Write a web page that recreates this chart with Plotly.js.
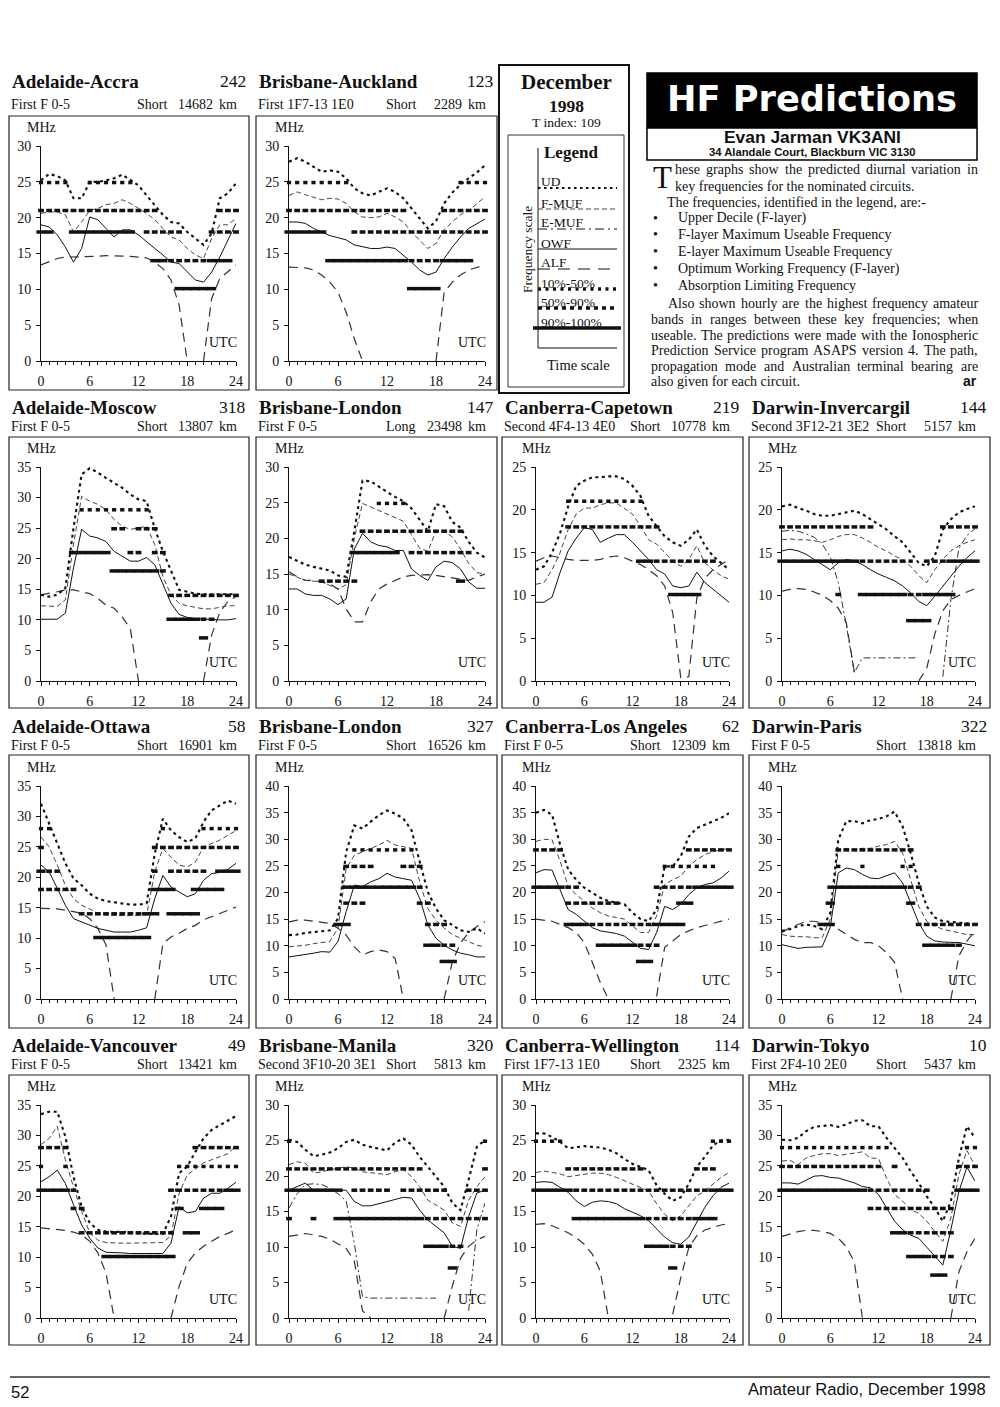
<!DOCTYPE html>
<html>
<head>
<meta charset="utf-8">
<script src="https://cdn.plot.ly/plotly-3.0.1.min.js"></script>
<style>
html,body{margin:0;padding:0;background:#fff;}
#page{width:1000px;height:1407px;}
</style>
</head>
<body>
<div id="page"></div>
<script>
// ================= DATA =================
const hours = [0,1,2,3,4,5,6,7,8,9,10,11,12,13,14,15,16,17,18,19,20,21,22,23,24];
// amateur bands drawn as hourly bars (rows of the band strings below, top to bottom)
const bandFreqs = [28, 24.9, 21, 18, 14, 10.1, 7.05];
// band string digit per hour: 0 none, 1 = 10%-50%, 2 = 50%-90%, 3 = 90%-100%

const chartTitles = ["Adelaide-Accra","Brisbane-Auckland","Adelaide-Moscow","Brisbane-London","Canberra-Capetown","Darwin-Invercargil","Adelaide-Ottawa","Brisbane-London","Canberra-Los Angeles","Darwin-Paris","Adelaide-Vancouver","Brisbane-Manila","Canberra-Wellington","Darwin-Tokyo"];
const chartBearings = ["242","123","318","147","219","144","58","327","62","322","49","320","114","10"];
const chartModes = ["First F 0-5","First 1F7-13 1E0","First F 0-5","First F 0-5","Second 4F4-13 4E0","Second 3F12-21 3E2","First F 0-5","First F 0-5","First F 0-5","First F 0-5","First F 0-5","Second 3F10-20 3E1","First 1F7-13 1E0","First 2F4-10 2E0"];
const chartPaths = ["Short","Short","Short","Long","Short","Short","Short","Short","Short","Short","Short","Short","Short","Short"];
const chartDistances = ["14682","2289","13807","23498","10778","5157","16901","16526","12309","13818","13421","5813","2325","5437"];
const chartYMax = [30,30,35,30,25,25,35,40,40,40,35,30,30,35];

// ---- Adelaide-Accra ----
const accraUD   = [25.2,26.1,25.8,25.2,22.7,22.7,25.0,25.0,25.2,25.5,26.0,25.3,24.5,23.1,21.7,20.4,19.4,19.2,18.0,17.1,16.2,17.8,22.7,23.4,24.8];
const accraFMUF = [20.6,20.8,20.8,20.4,18.0,19.4,21.0,21.3,21.8,22.0,22.5,22.0,21.3,20.6,19.7,18.5,17.3,16.9,15.7,14.8,14.3,17.1,19.0,19.0,19.9];
const accraOWF  = [19.0,18.7,17.6,15.9,13.8,15.7,20.1,19.7,18.5,17.3,18.3,18.3,17.6,16.6,15.7,14.8,13.8,13.6,12.4,11.3,11.0,12.4,14.5,16.9,19.2];
const accraALF  = [13.4,13.8,14.3,14.5,14.5,14.5,14.6,14.6,14.7,14.7,14.7,14.6,14.5,14.4,13.8,12.9,11.3,7.8,0,null,0,8.7,11.5,12.4,13.4];
const accraBands = ["0000000000000000000000000","1111001111110000000000000","2222222222222220000000222","3300333333330222220002222","0000000000000033222223330","0000000000000000033333000","0000000000000000000000000"];

// ---- Brisbane-Auckland ----
const aucklandUD   = [27.8,28.3,27.8,27.1,26.4,26.6,26.4,25.5,24.1,23.4,23.1,23.6,24.1,23.6,22.7,21.3,19.9,18.5,19.5,22.0,23.5,24.6,25.5,26.3,27.3];
const aucklandFMUF = [23.1,23.6,23.2,22.9,22.5,22.7,22.6,22.0,20.8,20.1,20.0,20.1,20.6,20.1,19.4,18.0,16.9,15.7,16.4,18.3,19.4,20.4,21.0,22.0,22.9];
const aucklandOWF  = [19.4,19.4,19.2,18.5,18.0,17.5,17.2,16.9,16.2,15.9,15.7,15.7,15.9,15.7,14.8,13.8,12.7,12.0,12.4,14.3,15.9,17.3,18.5,19.2,19.8];
const aucklandALF  = [13.1,13.1,13.0,12.7,12.0,11.0,9.6,6.8,3.1,0,null,null,null,null,null,null,null,null,0,9.6,11.0,12.0,12.7,13.1,13.4];
const aucklandBands = ["0000000000000000000000000","1111111100000000000001111","2222222222222220000222222","3333300022222222222222222","0000033333333332222333300","0000000000000003333000000","0000000000000000000000000"];

// ---- Adelaide-Moscow ----
const moscowUD   = [14.1,13.8,14.1,15.2,25.0,33.8,34.8,34.1,33.2,32.4,31.6,30.5,29.7,29.4,25.0,21.2,17.9,14.9,14.6,14.3,14.2,14.2,14.2,14.2,14.2];
const moscowFMUF = [12.3,12.3,12.2,13.3,22.3,30.2,29.4,28.9,28.0,26.4,25.3,24.8,25.0,25.3,22.3,17.1,14.1,12.7,12.3,12.0,11.8,11.8,12.0,12.3,12.3];
const moscowOWF  = [10.1,10.1,10.1,11.1,18.5,24.8,23.7,23.4,22.8,21.2,20.4,19.6,19.6,20.2,19.0,15.7,12.7,10.9,10.4,10.2,10.1,10.0,10.0,10.0,10.2];
const moscowALF  = [14.1,14.3,14.6,14.9,14.9,14.6,14.3,13.5,12.4,11.9,10.5,8.5,0,null,null,null,null,null,null,null,0,7.5,11.2,13.0,13.8];
const moscowBands = ["0000011111111100000000000","0000000002202220000000000","0000333330022022000000000","0000000003333332000000000","0000000000000000222222222","0000000000000000333322000","0000000000000000000030000"];

// ---- Brisbane-London (long path) ----
const londonLongUD   = [17.4,16.9,16.3,16.0,15.7,15.5,14.8,14.6,21.0,28.1,28.0,27.2,26.5,25.8,25.2,24.2,22.6,21.0,24.8,24.5,22.3,21.5,19.5,18.0,17.3];
const londonLongFMUF = [15.0,14.6,14.1,14.0,13.9,13.4,12.9,13.5,20.0,24.9,24.4,23.9,23.5,23.0,22.4,20.5,18.6,18.2,21.0,21.0,20.2,18.5,16.5,15.2,15.0];
const londonLongOWF  = [12.9,12.9,12.2,12.0,12.0,11.5,10.7,11.5,18.5,20.7,19.5,19.0,18.8,18.3,18.3,15.7,14.8,14.1,16.0,16.8,16.6,15.7,13.9,13.0,13.0];
const londonLongALF  = [15.3,14.6,14.1,14.1,13.9,13.6,12.9,10.1,8.3,8.3,11.1,12.9,13.6,14.1,14.6,14.8,14.9,14.9,14.8,14.6,14.4,14.3,14.1,14.6,15.0];
const londonLongBands = ["0000000000000000000000000","0000000000011110000000000","0000000002222222222222000","0000000033333302222222200","0000222220000000000003000","0000000000000000000000000","0000000000000000000000000"];

// ---- Canberra-Capetown ----
const capetownUD   = [13.0,13.4,15.0,17.3,20.4,22.8,23.4,23.8,23.8,23.9,23.9,23.6,22.8,21.6,19.3,18.1,16.9,16.2,15.8,16.5,17.7,15.8,14.6,13.8,13.0];
const capetownFMUF = [11.3,11.5,13.0,15.0,17.7,19.5,20.2,20.2,20.6,20.8,20.8,20.2,19.5,18.1,16.5,16.0,15.0,14.0,13.4,14.2,15.8,13.8,13.0,12.3,11.9];
const capetownOWF  = [9.2,9.2,9.8,12.7,15.2,16.7,17.9,17.7,16.2,16.7,17.1,17.1,16.2,15.2,14.2,13.0,12.5,11.1,10.9,11.1,12.7,11.5,10.7,9.9,9.2];
const capetownALF  = [14.0,14.4,14.6,14.4,14.2,14.1,14.1,14.1,14.2,14.5,14.6,14.4,14.0,13.6,13.0,12.3,11.1,8.0,0.4,0.5,9.7,12.0,13.0,13.6,14.2];
const capetownBands = ["0000000000000000000000000","0000000000000000000000000","0000111111111100000000000","0000222222222222000000000","0000000000000332222222200","0000000000000000033330000","0000000000000000000000000"];

// ---- Darwin-Invercargil ----
const invercargilUD   = [20.4,20.6,20.2,19.9,19.5,19.3,19.3,19.5,19.7,19.9,19.5,18.9,18.3,17.7,16.9,16.2,15.0,13.8,13.4,14.6,17.7,18.9,19.7,20.1,20.4];
const invercargilFMUF = [16.5,16.6,16.5,16.5,16.4,16.2,16.5,16.9,17.1,17.1,16.7,16.2,15.6,15.2,14.6,14.2,13.4,12.3,11.5,13.0,14.2,15.2,15.8,16.2,16.5];
const invercargilEMUF = [17.5,17.6,17.5,17.2,16.8,16.0,14.5,11.5,6.5,1.0,2.7,2.7,2.7,2.7,2.7,2.7,2.7,2.7,null,null,0.5,9.5,15.5,17.0,17.8];
const invercargilOWF  = [15.2,15.4,15.2,14.8,14.2,13.6,13.0,13.8,14.2,14.0,13.6,13.0,12.5,12.1,11.7,11.1,10.3,9.3,8.8,9.9,11.1,12.3,13.4,14.4,15.2];
const invercargilALF  = [10.5,10.7,10.8,10.7,10.4,10.0,9.4,8.5,6.8,1.0,null,null,null,null,null,null,null,0,1.5,5.5,8.2,9.5,10.0,10.4,10.8];
const invercargilBands = ["0000000000000000000000000","0000000000000000000000000","0000000000000000000000000","2222222222220000000022222","3333333333222222102223333","0000000200333333223333000","0000000000000000333000000"];

// ---- Adelaide-Ottawa ----
const ottawaUD   = [32.1,28.8,25.5,22.3,19.8,18.7,17.3,16.5,16.1,15.9,15.7,15.5,15.5,15.7,23.9,29.6,27.7,26.6,25.8,26.4,29.1,31.0,31.8,32.6,32.1];
const ottawaFMUF = [26.6,25.0,22.0,18.7,16.5,15.4,14.8,14.1,13.8,13.7,13.7,13.7,13.7,13.8,20.9,24.7,23.3,22.0,21.7,22.5,25.0,25.5,26.1,26.9,27.7];
const ottawaOWF  = [22.0,20.9,18.2,15.4,13.2,12.7,12.1,11.6,11.3,11.0,11.0,11.0,11.3,11.7,16.5,20.3,18.4,17.6,16.8,17.3,19.5,20.6,20.8,21.3,22.3];
const ottawaALF  = [14.9,14.9,14.8,14.6,14.4,14.1,13.2,11.6,8.9,0,null,null,null,null,0,9.1,10.2,10.8,11.6,12.1,13.0,13.5,14.1,14.6,15.1];
const ottawaBands = ["1100000000000001000011111","2000000000000022222222222","3220000000000020222220333","2222200000000033300333300","0000022222222330333300000","0000000333333300000000000","0000000000000000000000000"];

// ---- Brisbane-London (short path) ----
const londonShortUD   = [12.0,12.1,12.4,12.6,12.8,12.9,15.1,27.6,32.6,32.0,33.3,34.5,35.4,34.8,33.9,31.7,25.8,20.1,17.0,14.8,13.9,12.9,12.6,13.3,12.3];
const londonShortFMUF = [9.8,9.9,10.1,10.4,10.6,10.8,13.3,24.5,27.0,27.6,28.3,28.9,29.8,28.9,28.6,28.3,22.0,17.0,14.8,13.3,12.1,11.4,10.8,10.1,9.8];
const londonShortOWF  = [7.9,8.1,8.3,8.6,8.9,8.8,10.8,16.4,21.4,21.1,22.0,22.6,23.6,22.9,22.6,22.3,18.9,13.9,11.4,10.1,9.2,8.6,8.3,7.9,7.9];
const londonShortALF  = [14.5,14.8,14.8,14.6,14.5,14.2,13.3,12.0,9.8,8.3,8.9,9.2,8.9,7.6,0,null,null,null,null,0,7.0,10.5,12.5,13.6,14.5];
const londonShortBands = ["0000000011111111000000000","0000000222200022200000000","0000000333333333200000000","0000000222000000220000000","0000003300000000022200000","0000000000000000033220000","0000000000000000000330000"];

// ---- Canberra-Los Angeles ----
const losAngelesUD   = [35.0,35.5,34.6,29.0,24.3,22.4,20.9,19.9,19.0,18.4,18.1,17.8,16.2,15.0,14.6,16.8,24.9,24.9,26.8,30.5,32.1,32.7,33.3,34.0,34.9];
const losAngelesFMUF = [29.6,30.0,29.9,25.9,21.2,19.6,18.4,17.1,16.2,15.6,15.3,15.0,13.7,12.5,12.5,15.6,21.5,22.4,23.1,24.9,26.2,27.1,27.7,28.0,28.3];
const losAngelesOWF  = [23.7,24.3,24.2,20.6,16.8,15.9,14.6,13.4,12.8,12.5,12.3,11.8,10.6,9.5,9.3,12.5,17.4,16.8,17.8,19.6,20.9,21.5,21.8,22.7,24.0];
const losAngelesALF  = [15.0,14.8,14.6,14.0,13.4,12.5,10.6,6.9,3.1,0,null,null,null,null,null,0.5,9.7,10.9,12.1,12.8,13.4,13.8,14.2,14.6,15.0];
const losAngelesBands = ["2222000000000000000222222","0000000000000000111111100","3333220000000002222233333","0000222222200000003300000","0000333222222223333000000","0000000033333222000000000","0000000000000330000000000"];

// ---- Darwin-Paris ----
const parisUD   = [12.8,13.1,13.7,14.0,13.7,13.1,16.2,29.9,33.4,33.4,33.0,33.6,33.8,34.3,35.2,32.4,27.4,21.8,17.4,15.3,14.6,14.5,14.3,14.2,14.0];
const parisFMUF = [12.1,11.8,11.7,11.7,11.5,11.5,15.0,28.0,28.3,28.0,28.3,28.3,28.7,29.0,29.6,27.4,22.4,17.4,14.6,13.7,13.1,12.8,12.5,12.1,12.1];
const parisOWF  = [10.2,9.8,9.5,9.7,9.7,9.8,13.5,23.7,24.6,24.3,23.4,22.7,22.6,23.1,23.7,21.8,18.1,14.3,11.8,10.9,10.7,10.6,10.6,10.3,10.0];
const parisALF  = [12.5,13.4,14.0,14.6,14.6,14.3,14.0,13.1,12.1,11.2,10.6,10.6,10.0,8.7,6.9,0,null,null,null,null,null,0,8.1,10.9,12.8];
const parisBands = ["0000000222222222200000000","0000000100100001100000000","0000002333333333220000000","0000003000000000300000000","0000033000000000022222222","0000000000000000003333200","0000000000000000000000000"];

// ---- Adelaide-Vancouver ----
const vancouverUD   = [33.5,33.9,33.9,29.8,23.2,18.3,15.6,14.5,14.2,14.2,14.1,14.1,13.9,13.8,13.8,13.8,16.7,23.8,24.9,27.3,29.5,30.9,31.7,32.5,33.2];
const vancouverFMUF = [28.5,29.5,31.5,26.0,21.5,17.5,14.0,12.8,12.4,12.3,12.3,12.3,12.3,12.3,12.3,12.4,13.5,20.5,23.5,24.5,25.5,26.0,26.5,27.0,28.3];
const vancouverOWF  = [22.4,23.2,24.3,22.1,18.6,15.3,13.1,11.5,10.8,10.8,10.7,10.6,10.6,10.6,10.6,10.6,12.3,18.3,17.3,17.5,19.7,20.5,20.5,21.3,22.3];
const vancouverALF  = [14.8,14.7,14.5,14.4,14.1,13.7,12.6,10.7,7.4,0,null,null,null,null,null,null,0,5.2,9.0,10.7,11.8,12.6,13.4,13.9,14.5];
const vancouverBands = ["2222000000000000000222222","1001000000000000011111111","3333200000000000222222233","0000220000000000030033300","0000022222222222203300000","0000000033333333300000000","0000000000000000000000000"];

// ---- Brisbane-Manila ----
const manilaUD   = [25.1,24.8,23.7,22.8,23.0,23.3,23.9,24.8,25.1,24.4,24.1,23.9,23.6,24.7,25.3,24.4,22.7,21.3,19.9,18.5,16.2,15.2,19.5,24.1,25.1];
const manilaFMUF = [21.6,22.0,21.8,20.4,20.6,20.9,21.1,21.3,21.1,20.6,20.5,20.3,20.2,20.6,20.9,19.9,18.5,16.6,15.9,15.2,13.4,12.9,16.6,18.5,19.9];
const manilaEMUF = [15.5,17.5,18.8,18.9,18.8,18.3,17.5,16.5,10.5,3.0,2.8,2.8,2.8,2.8,2.8,2.8,2.8,2.8,2.8,null,null,null,1.0,12.4,16.2];
const manilaOWF  = [18.0,18.5,19.0,18.0,18.0,18.0,18.1,18.0,16.4,15.8,15.8,16.1,16.4,16.6,17.0,16.9,15.2,13.8,12.9,12.0,10.1,9.8,14.3,17.6,18.0];
const manilaALF  = [11.5,11.7,11.9,11.7,11.5,11.1,10.5,9.8,8.0,1.0,0,null,null,null,null,null,null,null,null,0,4.5,8.4,10.1,11.0,11.5];
const manilaBands = ["0000000000000000000000000","1000000000000000000000001","2222222222222222200000002","3333333022222022222200222","2002003333333333322222222","0000000000000000033322000","0000000000000000000030000"];

// ---- Canberra-Wellington ----
const wellingtonUD   = [26.0,26.0,25.5,24.8,23.9,24.0,24.2,24.1,24.0,23.7,23.2,22.4,21.7,21.3,20.8,18.7,17.5,16.5,17.0,18.9,21.3,22.7,24.3,25.0,25.1];
const wellingtonFMUF = [20.5,20.7,20.5,20.3,19.9,20.1,20.3,20.4,20.4,20.2,19.8,19.3,18.8,18.4,17.9,16.1,14.6,13.7,14.4,15.8,17.2,17.9,18.9,19.8,20.5];
const wellingtonOWF  = [19.1,19.2,19.1,18.4,17.7,16.5,15.7,16.3,16.5,16.4,16.1,15.4,14.9,14.4,13.7,12.5,11.4,10.6,10.4,11.4,13.5,15.6,17.2,18.4,19.0];
const wellingtonALF  = [13.2,13.3,13.0,12.5,12.0,11.3,10.4,9.0,6.6,0,null,null,null,null,null,null,null,0.5,5.7,9.9,11.6,12.4,12.8,13.1,13.3];
const wellingtonBands = ["0000000000000000000000000","1111000000000000000000111","0000222222222200000022200","3333322222222222222222333","0000033333333322222233300","0000000000000033322200000","0000000000000000030000000"];

// ---- Darwin-Tokyo ----
const tokyoUD   = [29.3,29.2,29.6,30.7,31.4,31.5,31.7,31.4,31.8,32.4,32.5,31.5,31.5,29.6,28.0,26.3,24.1,22.2,20.0,18.1,15.9,19.2,26.3,31.5,29.6];
const tokyoFMUF = [25.8,25.9,25.2,26.3,26.7,27.0,27.0,26.7,26.9,27.1,27.3,26.3,26.2,23.0,20.3,19.2,17.8,17.2,15.9,14.2,12.6,16.4,23.6,27.5,25.0];
const tokyoOWF  = [22.2,22.2,22.0,22.7,23.3,23.4,23.1,23.0,22.6,22.2,21.6,21.4,20.3,18.1,15.9,14.5,13.6,13.1,11.6,10.1,8.7,14.5,20.8,24.8,22.5];
const tokyoALF  = [13.4,13.8,14.2,14.4,14.4,14.2,13.9,13.1,11.7,9.2,0,null,null,null,null,null,null,null,null,null,null,0,7.6,10.9,13.1];
const tokyoBands = ["1111111111111100000000011","2222222222222020000000222","3333333333322222222000333","0000000000022222222222000","0000000000000033222222000","0000000000000000333222000","0000000000000000000330000"];

// legend / text content
const legendLabels = ["UD","F-MUF","E-MUF","OWF","ALF","10%-50%","50%-90%","90%-100%"];
const bulletItems = ["Upper Decile (F-layer)","F-layer Maximum Useable Frequency","E-layer Maximum Useable Frequency","Optimum Working Frequency (F-layer)","Absorption Limiting Frequency"];

// ================= ASSEMBLY =================
const charts = [
  {ud:accraUD, fmuf:accraFMUF, emuf:null, owf:accraOWF, alf:accraALF, bands:accraBands},
  {ud:aucklandUD, fmuf:aucklandFMUF, emuf:null, owf:aucklandOWF, alf:aucklandALF, bands:aucklandBands},
  {ud:moscowUD, fmuf:moscowFMUF, emuf:null, owf:moscowOWF, alf:moscowALF, bands:moscowBands},
  {ud:londonLongUD, fmuf:londonLongFMUF, emuf:null, owf:londonLongOWF, alf:londonLongALF, bands:londonLongBands},
  {ud:capetownUD, fmuf:capetownFMUF, emuf:null, owf:capetownOWF, alf:capetownALF, bands:capetownBands},
  {ud:invercargilUD, fmuf:invercargilFMUF, emuf:invercargilEMUF, owf:invercargilOWF, alf:invercargilALF, bands:invercargilBands},
  {ud:ottawaUD, fmuf:ottawaFMUF, emuf:null, owf:ottawaOWF, alf:ottawaALF, bands:ottawaBands},
  {ud:londonShortUD, fmuf:londonShortFMUF, emuf:null, owf:londonShortOWF, alf:londonShortALF, bands:londonShortBands},
  {ud:losAngelesUD, fmuf:losAngelesFMUF, emuf:null, owf:losAngelesOWF, alf:losAngelesALF, bands:losAngelesBands},
  {ud:parisUD, fmuf:parisFMUF, emuf:null, owf:parisOWF, alf:parisALF, bands:parisBands},
  {ud:vancouverUD, fmuf:vancouverFMUF, emuf:null, owf:vancouverOWF, alf:vancouverALF, bands:vancouverBands},
  {ud:manilaUD, fmuf:manilaFMUF, emuf:manilaEMUF, owf:manilaOWF, alf:manilaALF, bands:manilaBands},
  {ud:wellingtonUD, fmuf:wellingtonFMUF, emuf:null, owf:wellingtonOWF, alf:wellingtonALF, bands:wellingtonBands},
  {ud:tokyoUD, fmuf:tokyoFMUF, emuf:null, owf:tokyoOWF, alf:tokyoALF, bands:tokyoBands}
];

// page geometry (pixels)
const W = 1000, H = 1407;
const COLS = [
  {boxL: 9,   boxR: 249, x0: 41,  x1: 236},
  {boxL: 256, boxR: 497, x0: 289, x1: 485},
  {boxL: 502, boxR: 743, x0: 536, x1: 729},
  {boxL: 749, boxR: 990, x0: 782, x1: 975}
];
const ROWS = [
  {title: 81,   sub: 104,  boxT: 116,  boxB: 390,  yTop: 146,  yBot: 361},
  {title: 407,  sub: 426,  boxT: 437,  boxB: 708,  yTop: 467,  yBot: 681},
  {title: 726,  sub: 745,  boxT: 755,  boxB: 1028, yTop: 786,  yBot: 999},
  {title: 1045, sub: 1064, boxT: 1075, boxB: 1345, yTop: 1105, yBot: 1318}
];
const SLOTS = [[0,0],[0,1],[1,0],[1,1],[1,2],[1,3],[2,0],[2,1],[2,2],[2,3],[3,0],[3,1],[3,2],[3,3]];

const SERIF = "Liberation Serif, Times New Roman, serif";
const SANS = "Liberation Sans, Arial, sans-serif";
const INK = '#111';
const px = x => x / W;
const py = y => 1 - y / H;

const measureCtx = document.createElement('canvas').getContext('2d');
function textWidth(s, size, family, weight) {
  measureCtx.font = (weight || 'normal') + ' ' + size + 'px ' + family;
  return measureCtx.measureText(s).width;
}
function fitSize(s, family, weight, width) {
  return 100 * width / textWidth(s, 100, family, weight);
}

const data = [], shapes = [], annotations = [];

function addText(text, x, y, o) {
  o = o || {};
  annotations.push({
    text: text, x: px(x), y: py(y), xref: 'paper', yref: 'paper', showarrow: false,
    xanchor: o.anchor || 'left', yanchor: o.vanchor || 'middle', textangle: o.angle || 0,
    borderpad: 0, borderwidth: 0,
    font: {family: o.family || SERIF, size: o.size || 14, color: o.color || INK, weight: o.weight || 'normal'}
  });
}
function rect(x0, y0, x1, y1, o) {
  o = o || {};
  shapes.push({type: 'rect', xref: 'paper', yref: 'paper', x0: px(x0), x1: px(x1), y0: py(y1), y1: py(y0),
    line: {color: o.color || INK, width: o.width == null ? 1 : o.width}, fillcolor: o.fill || 'rgba(0,0,0,0)', layer: 'above'});
}
function seg(x0, y0, x1, y1, o) {
  o = o || {};
  shapes.push({type: 'line', xref: 'paper', yref: 'paper', x0: px(x0), x1: px(x1), y0: py(y0), y1: py(y1),
    line: {color: o.color || INK, width: o.width || 1, dash: o.dash || 'solid'}, layer: 'above'});
}

const STY = {
  ud:   {color: '#111', width: 2.1, dash: '3px,3.5px'},
  fmuf: {color: '#444', width: 1,   dash: '5px,3px'},
  emuf: {color: '#333', width: 1,   dash: '7px,3px,2px,3px'},
  owf:  {color: '#111', width: 1,   dash: 'solid'},
  alf:  {color: '#333', width: 1.2, dash: '9px,6px'}
};
const BAND_STY = {1: {len: 4.2}, 2: {len: 5.8}, 3: {len: 9.2}};

const layout = {
  width: W, height: H, margin: {l: 0, r: 0, t: 0, b: 0},
  paper_bgcolor: '#fff', plot_bgcolor: 'rgba(0,0,0,0)', showlegend: false, hovermode: false,
  font: {family: SERIF, color: INK}
};

charts.forEach((ch, i) => {
  const R = ROWS[SLOTS[i][0]], C = COLS[SLOTS[i][1]];
  const ax = i === 0 ? '' : String(i + 1);
  const xa = 'x' + ax, ya = 'y' + ax;
  const common = {showline: true, linecolor: INK, linewidth: 1, ticks: 'outside', ticklen: 4, tickwidth: 1, tickcolor: INK,
    showgrid: false, zeroline: false, fixedrange: true, tickfont: {family: SERIF, size: 14, color: INK}};
  layout['xaxis' + ax] = Object.assign({}, common, {
    domain: [px(C.x0), px(C.x1)], range: [0, 24], anchor: ya, tick0: 0, dtick: 6, ticklabelstandoff: 3,
    minor: {tick0: 0, dtick: 1, ticks: 'outside', ticklen: 3, tickwidth: 1, tickcolor: INK, showgrid: false}
  });
  layout['yaxis' + ax] = Object.assign({}, common, {
    domain: [py(R.yBot), py(R.yTop)], range: [0, chartYMax[i]], anchor: xa, tick0: 0, dtick: 5, ticklabelstandoff: 2
  });

  ['alf', 'emuf', 'fmuf', 'owf', 'ud'].forEach(k => {
    if (!ch[k]) return;
    data.push({type: 'scatter', mode: 'lines', x: hours, y: ch[k], xaxis: xa, yaxis: ya,
      line: STY[k], connectgaps: false, hoverinfo: 'skip'});
  });

  [1, 2, 3].forEach(code => {
    const xs = [], ys = [];
    ch.bands.forEach((row, k) => {
      const s = row.padEnd(25, '0').slice(0, 25);
      for (let h = 0; h < 25; h++) if (s[h] === String(code)) { xs.push(hours[h]); ys.push(bandFreqs[k]); }
    });
    if (!xs.length) return;
    data.push({type: 'scatter', mode: 'markers', x: xs, y: ys, xaxis: xa, yaxis: ya, cliponaxis: false, hoverinfo: 'skip',
      marker: {symbol: 'line-ew', size: BAND_STY[code].len / 1.4, color: INK, line: {color: INK, width: 3.5}}});
  });

  // frame and texts
  rect(C.boxL, R.boxT, C.boxR, R.boxB, {color: '#222', width: 1.2});
  addText('<b>' + chartTitles[i] + '</b>', C.boxL + 3, R.title, {size: 19});
  addText(chartBearings[i], C.boxR - 3, R.title, {size: 17.5, anchor: 'right'});
  addText(chartModes[i], C.boxL + 2, R.sub, {size: 14});
  addText(chartPaths[i], C.x1 - 99, R.sub, {size: 14});
  addText(chartDistances[i], C.x1 - 23, R.sub, {size: 14, anchor: 'right'});
  addText('km', C.x1 + 1, R.sub, {size: 14, anchor: 'right'});
  addText('MHz', C.x0, R.yTop - 19, {size: 14, anchor: 'center'});
  addText('UTC', C.x1 + 1, R.yBot - 19, {size: 14, anchor: 'right'});
});

// ---------- December / legend box ----------
rect(499, 65, 629, 393, {width: 2});
addText('<b>December</b>', 566, 82, {size: 21, anchor: 'center'});
addText('<b>1998</b>', 566, 106, {size: 17.5, anchor: 'center'});
addText('T index: 109', 566, 123, {size: 13.5, anchor: 'center'});
rect(508, 135, 624, 387, {width: 1, color: '#333'});
addText('<b>Legend</b>', 544, 153, {size: 17});
seg(538, 148, 538, 348, {width: 1});
seg(538, 348, 617, 348, {width: 1});
const legY = [188, 209, 229, 249, 269, 289, 308, 328];
const legSty = [
  {width: 2, dash: '2.5px,3.5px'}, {width: 1, dash: '5px,3px', color: '#444'}, {width: 1, dash: '9px,4px,2px,4px'},
  {width: 1}, {width: 1.2, dash: '12px,8px'}, {width: 3.5, dash: '3px,4.5px'}, {width: 3.5, dash: '4px,4px'}, {width: 3.5}
];
legendLabels.forEach((lab, k) => {
  addText(lab, 541, legY[k] - 6, {size: 13.5});
  if (k === 7) seg(533, legY[k], 621, legY[k], legSty[k]);
  else seg(538, legY[k], 617, legY[k], legSty[k]);
});
addText('Frequency scale', 527, 250, {size: 13.5, angle: -90, anchor: 'center'});
addText('Time scale', 578, 365, {size: 14.5, anchor: 'center'});

// ---------- HF Predictions header ----------
rect(647, 73, 977, 128, {fill: '#000', width: 1.5, color: '#000'});
rect(647, 128, 977, 160, {fill: '#fff', width: 1.5, color: '#000'});
const hfFamily = 'DejaVu Sans';
addText('<b>HF Predictions</b>', 812, 98, {family: hfFamily + ', ' + SANS, size: fitSize('HF Predictions', hfFamily, 'bold', 290), color: '#fff', anchor: 'center'});
addText('<b>Evan Jarman VK3ANI</b>', 812, 137, {family: SANS, size: fitSize('Evan Jarman VK3ANI', 'Liberation Sans', 'bold', 177), anchor: 'center'});
addText('<b>34 Alandale Court, Blackburn VIC 3130</b>', 812, 151.5, {family: SANS, size: fitSize('34 Alandale Court, Blackburn VIC 3130', 'Liberation Sans', 'bold', 207), anchor: 'center'});

// ---------- body text ----------
const BODY = 14;
function justify(line, xL, xR, y) {
  const words = line.split(' ');
  const ws = words.map(w => textWidth(w, BODY, 'Liberation Serif'));
  const total = ws.reduce((a, b) => a + b, 0);
  let gap = words.length > 1 ? (xR - xL - total) / (words.length - 1) : 0;
  if (gap < 2) { addText(line, xL, y, {size: BODY}); return; }
  let x = xL;
  words.forEach((w, k) => { addText(w, x, y, {size: BODY}); x += ws[k] + gap; });
}
addText('T', 653, 160, {size: 31, vanchor: 'top'});
justify('hese graphs show the predicted diurnal variation in', 675, 978, 170);
addText('key frequencies for the nominated circuits.', 675, 186, {size: BODY});
addText('The frequencies, identified in the legend, are:-', 667, 202, {size: BODY});
const bulletY = [218, 235, 252, 269, 285];
bulletItems.forEach((t, k) => {
  addText('\u2022', 653, bulletY[k], {size: BODY});
  addText(t, 678, bulletY[k], {size: BODY});
});
justify('Also shown hourly are the highest frequency amateur', 668, 978, 303);
justify('bands in ranges between these key frequencies; when', 651, 978, 319);
justify('useable. The predictions were made with the Ionospheric', 651, 978, 335);
justify('Prediction Service program ASAPS version 4. The path,', 651, 978, 351);
justify('propagation mode and Australian terminal bearing are', 651, 978, 366);
addText('also given for each circuit.', 651, 381, {size: BODY});
addText('<b>ar</b>', 977, 381, {size: 14, anchor: 'right', family: SANS});

// ---------- footer ----------
seg(10, 1377, 990, 1377, {width: 1.5, color: '#333'});
addText('52', 11, 1392, {family: SANS, size: 16.5});
addText('Amateur Radio, December 1998', 986, 1389, {family: SANS, size: fitSize('Amateur Radio, December 1998', 'Liberation Sans', 'normal', 238), anchor: 'right'});

layout.shapes = shapes;
layout.annotations = annotations;
Plotly.newPlot('page', data, layout, {staticPlot: true, displayModeBar: false});
</script>
</body>
</html>
